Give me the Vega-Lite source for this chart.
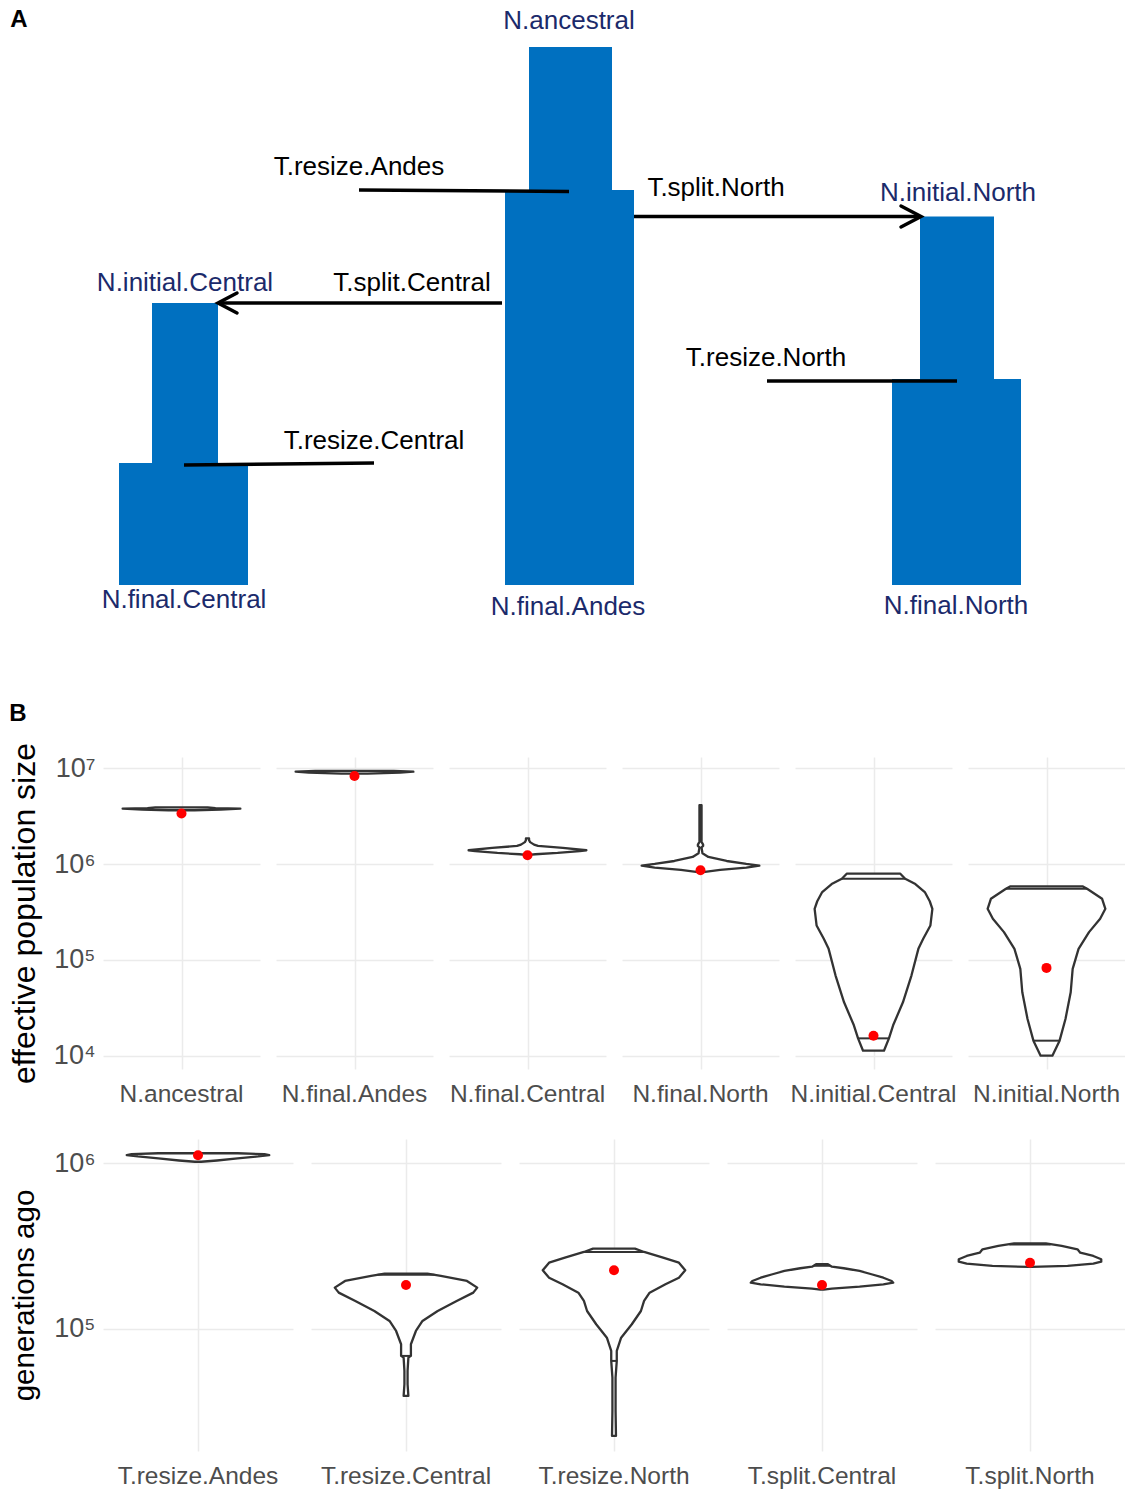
{
  "$schema": "https://vega.github.io/schema/vega-lite/v6.json",
  "padding": {"left": 8, "top": 0, "right": 0, "bottom": 0},
  "spacing": 12,
  "config": {"view": {"stroke": null}, "font": "Liberation Sans"},
  "datasets": {
    "boxes": [
      {"x": 530, "x2": 613, "y": 47, "y2": 190},
      {"x": 506, "x2": 635, "y": 190, "y2": 585},
      {"x": 921, "x2": 995, "y": 216.5, "y2": 380},
      {"x": 893, "x2": 1022, "y": 379, "y2": 585},
      {"x": 153, "x2": 219, "y": 303, "y2": 463},
      {"x": 120, "x2": 249, "y": 463, "y2": 585}
    ],
    "lines": [
      {"x": 360, "x2": 570, "y": 190, "y2": 191.5},
      {"x": 635, "x2": 921, "y": 216.5, "y2": 216.5},
      {"x": 503, "x2": 219, "y": 303, "y2": 303},
      {"x": 768, "x2": 958, "y": 381, "y2": 381},
      {"x": 185, "x2": 375, "y": 465, "y2": 463}
    ],
    "arrows": [
      {"a": "north", "i": 0, "x": 902, "y": 206},
      {"a": "north", "i": 1, "x": 922, "y": 216.5},
      {"a": "north", "i": 2, "x": 902, "y": 227},
      {"a": "central", "i": 0, "x": 238, "y": 293},
      {"a": "central", "i": 1, "x": 219, "y": 303},
      {"a": "central", "i": 2, "x": 238, "y": 313}
    ],
    "labels": [
      {"t": "N.ancestral", "x": 570, "y": 21, "c": "N"},
      {"t": "T.resize.Andes", "x": 360, "y": 167, "c": "T"},
      {"t": "T.split.North", "x": 717, "y": 188, "c": "T"},
      {"t": "N.initial.North", "x": 959, "y": 193, "c": "N"},
      {"t": "N.initial.Central", "x": 186, "y": 283, "c": "N"},
      {"t": "T.split.Central", "x": 413, "y": 283, "c": "T"},
      {"t": "T.resize.North", "x": 767, "y": 358, "c": "T"},
      {"t": "T.resize.Central", "x": 375, "y": 441, "c": "T"},
      {"t": "N.final.Central", "x": 185, "y": 600, "c": "N"},
      {"t": "N.final.Andes", "x": 569, "y": 607, "c": "N"},
      {"t": "N.final.North", "x": 957, "y": 606, "c": "N"}
    ],
    "letters": [
      {"t": "A", "x": 20, "y": 20},
      {"t": "B", "x": 19, "y": 714}
    ],
    "nv": [
      {"g": "N.ancestral", "k": "o", "v": 3930000, "l": -0.2, "r": 0.2},
      {"g": "N.ancestral", "k": "o", "v": 3860000, "l": -0.26, "r": 0.26},
      {"g": "N.ancestral", "k": "o", "v": 3800000, "l": -0.45, "r": 0.45},
      {"g": "N.ancestral", "k": "o", "v": 3720000, "l": -0.3, "r": 0.3},
      {"g": "N.ancestral", "k": "o", "v": 3660000, "l": -0.1, "r": 0.1},
      {"g": "N.ancestral", "k": "p", "v": 3380000, "l": 0},

      {"g": "N.final.Andes", "k": "o", "v": 9450000, "l": -0.3, "r": 0.3},
      {"g": "N.final.Andes", "k": "o", "v": 9250000, "l": -0.45, "r": 0.45},
      {"g": "N.final.Andes", "k": "o", "v": 9050000, "l": -0.35, "r": 0.35},
      {"g": "N.final.Andes", "k": "o", "v": 8850000, "l": -0.1, "r": 0.1},
      {"g": "N.final.Andes", "k": "p", "v": 8330000, "l": 0},

      {"g": "N.final.Central", "k": "o", "v": 1858000, "l": -0.012, "r": 0.012},
      {"g": "N.final.Central", "k": "o", "v": 1780000, "l": -0.012, "r": 0.012},
      {"g": "N.final.Central", "k": "o", "v": 1700000, "l": -0.02, "r": 0.02},
      {"g": "N.final.Central", "k": "o", "v": 1600000, "l": -0.05, "r": 0.05},
      {"g": "N.final.Central", "k": "o", "v": 1551000, "l": -0.08, "r": 0.08},
      {"g": "N.final.Central", "k": "o", "v": 1478000, "l": -0.27, "r": 0.27},
      {"g": "N.final.Central", "k": "o", "v": 1398000, "l": -0.45, "r": 0.45},
      {"g": "N.final.Central", "k": "o", "v": 1370000, "l": -0.4, "r": 0.4},
      {"g": "N.final.Central", "k": "o", "v": 1310000, "l": -0.23, "r": 0.23},
      {"g": "N.final.Central", "k": "o", "v": 1270000, "l": -0.06, "r": 0.06},
      {"g": "N.final.Central", "k": "o", "v": 1250000, "l": -0.01, "r": 0.01},
      {"g": "N.final.Central", "k": "p", "v": 1240000, "l": 0},

      {"g": "N.final.North", "k": "o", "v": 4139000, "l": -0.008, "r": 0.008},
      {"g": "N.final.North", "k": "o", "v": 2766000, "l": -0.008, "r": 0.008},
      {"g": "N.final.North", "k": "o", "v": 1708000, "l": -0.008, "r": 0.008},
      {"g": "N.final.North", "k": "o", "v": 1600000, "l": -0.02, "r": 0.02},
      {"g": "N.final.North", "k": "o", "v": 1551000, "l": -0.02, "r": 0.02},
      {"g": "N.final.North", "k": "o", "v": 1500000, "l": -0.008, "r": 0.008},
      {"g": "N.final.North", "k": "o", "v": 1300000, "l": -0.015, "r": 0.015},
      {"g": "N.final.North", "k": "o", "v": 1190000, "l": -0.06, "r": 0.06},
      {"g": "N.final.North", "k": "o", "v": 1080000, "l": -0.2, "r": 0.2},
      {"g": "N.final.North", "k": "o", "v": 1005000, "l": -0.35, "r": 0.35},
      {"g": "N.final.North", "k": "o", "v": 965000, "l": -0.45, "r": 0.45},
      {"g": "N.final.North", "k": "o", "v": 923000, "l": -0.35, "r": 0.35},
      {"g": "N.final.North", "k": "o", "v": 870000, "l": -0.15, "r": 0.15},
      {"g": "N.final.North", "k": "o", "v": 828000, "l": -0.02, "r": 0.02},
      {"g": "N.final.North", "k": "p", "v": 863000, "l": 0},

      {"g": "N.initial.Central", "k": "o", "v": 795300, "l": -0.205, "r": 0.205},
      {"g": "N.initial.Central", "k": "o", "v": 705000, "l": -0.242, "r": 0.242},
      {"g": "N.initial.Central", "k": "o", "v": 620000, "l": -0.32, "r": 0.32},
      {"g": "N.initial.Central", "k": "o", "v": 511700, "l": -0.392, "r": 0.392},
      {"g": "N.initial.Central", "k": "o", "v": 410000, "l": -0.43, "r": 0.43},
      {"g": "N.initial.Central", "k": "o", "v": 342000, "l": -0.45, "r": 0.45},
      {"g": "N.initial.Central", "k": "o", "v": 229200, "l": -0.435, "r": 0.435},
      {"g": "N.initial.Central", "k": "o", "v": 166000, "l": -0.38, "r": 0.38},
      {"g": "N.initial.Central", "k": "o", "v": 130400, "l": -0.343, "r": 0.343},
      {"g": "N.initial.Central", "k": "o", "v": 68650, "l": -0.29, "r": 0.29},
      {"g": "N.initial.Central", "k": "o", "v": 36070, "l": -0.225, "r": 0.225},
      {"g": "N.initial.Central", "k": "o", "v": 20720, "l": -0.15, "r": 0.15},
      {"g": "N.initial.Central", "k": "o", "v": 15140, "l": -0.118, "r": 0.118},
      {"g": "N.initial.Central", "k": "o", "v": 11250, "l": -0.08, "r": 0.08},
      {"g": "N.initial.Central", "k": "q", "v": 705000, "l": -0.242, "r": 0.242},
      {"g": "N.initial.Central", "k": "q", "v": 15140, "l": -0.118, "r": 0.118},
      {"g": "N.initial.Central", "k": "p", "v": 16150, "l": 0},

      {"g": "N.initial.North", "k": "o", "v": 586900, "l": -0.275, "r": 0.275},
      {"g": "N.initial.North", "k": "o", "v": 554000, "l": -0.31, "r": 0.31},
      {"g": "N.initial.North", "k": "o", "v": 435200, "l": -0.425, "r": 0.425},
      {"g": "N.initial.North", "k": "o", "v": 342000, "l": -0.45, "r": 0.45},
      {"g": "N.initial.North", "k": "o", "v": 268800, "l": -0.41, "r": 0.41},
      {"g": "N.initial.North", "k": "o", "v": 195100, "l": -0.325, "r": 0.325},
      {"g": "N.initial.North", "k": "o", "v": 130400, "l": -0.245, "r": 0.245},
      {"g": "N.initial.North", "k": "o", "v": 80500, "l": -0.2, "r": 0.2},
      {"g": "N.initial.North", "k": "o", "v": 45890, "l": -0.185, "r": 0.185},
      {"g": "N.initial.North", "k": "o", "v": 24110, "l": -0.145, "r": 0.145},
      {"g": "N.initial.North", "k": "o", "v": 14320, "l": -0.1, "r": 0.1},
      {"g": "N.initial.North", "k": "o", "v": 9980, "l": -0.045, "r": 0.045},
      {"g": "N.initial.North", "k": "q", "v": 554000, "l": -0.31, "r": 0.31},
      {"g": "N.initial.North", "k": "q", "v": 14320, "l": -0.1, "r": 0.1},
      {"g": "N.initial.North", "k": "p", "v": 82500, "l": 0}
    ],
    "tv": [
      {"g": "T.resize.Andes", "k": "o", "v": 1150000, "l": -0.25, "r": 0.25},
      {"g": "T.resize.Andes", "k": "o", "v": 1135000, "l": -0.42, "r": 0.42},
      {"g": "T.resize.Andes", "k": "o", "v": 1122000, "l": -0.45, "r": 0.45},
      {"g": "T.resize.Andes", "k": "o", "v": 1100000, "l": -0.38, "r": 0.38},
      {"g": "T.resize.Andes", "k": "o", "v": 1070000, "l": -0.25, "r": 0.25},
      {"g": "T.resize.Andes", "k": "o", "v": 1040000, "l": -0.12, "r": 0.12},
      {"g": "T.resize.Andes", "k": "o", "v": 1022000, "l": -0.02, "r": 0.02},
      {"g": "T.resize.Andes", "k": "p", "v": 1118000, "l": 0},

      {"g": "T.resize.Central", "k": "o", "v": 215000, "l": -0.135, "r": 0.135},
      {"g": "T.resize.Central", "k": "o", "v": 208200, "l": -0.22, "r": 0.22},
      {"g": "T.resize.Central", "k": "o", "v": 194300, "l": -0.385, "r": 0.385},
      {"g": "T.resize.Central", "k": "o", "v": 177000, "l": -0.45, "r": 0.45},
      {"g": "T.resize.Central", "k": "o", "v": 165100, "l": -0.425, "r": 0.425},
      {"g": "T.resize.Central", "k": "o", "v": 147100, "l": -0.32, "r": 0.32},
      {"g": "T.resize.Central", "k": "o", "v": 127900, "l": -0.2, "r": 0.2},
      {"g": "T.resize.Central", "k": "o", "v": 111300, "l": -0.104, "r": 0.104},
      {"g": "T.resize.Central", "k": "o", "v": 96800, "l": -0.0625, "r": 0.0625},
      {"g": "T.resize.Central", "k": "o", "v": 80500, "l": -0.031, "r": 0.031},
      {"g": "T.resize.Central", "k": "o", "v": 68400, "l": -0.031, "r": 0.031},
      {"g": "T.resize.Central", "k": "o", "v": 66800, "l": -0.015, "r": 0.015},
      {"g": "T.resize.Central", "k": "o", "v": 55500, "l": -0.01, "r": 0.01},
      {"g": "T.resize.Central", "k": "o", "v": 46100, "l": -0.01, "r": 0.01},
      {"g": "T.resize.Central", "k": "o", "v": 39200, "l": -0.015, "r": 0.015},
      {"g": "T.resize.Central", "k": "q", "v": 211500, "l": -0.18, "r": 0.18},
      {"g": "T.resize.Central", "k": "q", "v": 68400, "l": -0.031, "r": 0.031},
      {"g": "T.resize.Central", "k": "p", "v": 183800, "l": 0},

      {"g": "T.resize.North", "k": "o", "v": 304600, "l": -0.1325, "r": 0.1325},
      {"g": "T.resize.North", "k": "o", "v": 290900, "l": -0.19, "r": 0.19},
      {"g": "T.resize.North", "k": "o", "v": 268800, "l": -0.31, "r": 0.31},
      {"g": "T.resize.North", "k": "o", "v": 250600, "l": -0.41, "r": 0.41},
      {"g": "T.resize.North", "k": "o", "v": 225500, "l": -0.45, "r": 0.45},
      {"g": "T.resize.North", "k": "o", "v": 203300, "l": -0.41, "r": 0.41},
      {"g": "T.resize.North", "k": "o", "v": 185500, "l": -0.325, "r": 0.325},
      {"g": "T.resize.North", "k": "o", "v": 165100, "l": -0.225, "r": 0.225},
      {"g": "T.resize.North", "k": "o", "v": 147100, "l": -0.19, "r": 0.19},
      {"g": "T.resize.North", "k": "o", "v": 127900, "l": -0.17, "r": 0.17},
      {"g": "T.resize.North", "k": "o", "v": 106300, "l": -0.1125, "r": 0.1125},
      {"g": "T.resize.North", "k": "o", "v": 88200, "l": -0.045, "r": 0.045},
      {"g": "T.resize.North", "k": "o", "v": 73300, "l": -0.0175, "r": 0.0175},
      {"g": "T.resize.North", "k": "o", "v": 63800, "l": -0.0175, "r": 0.0175},
      {"g": "T.resize.North", "k": "o", "v": 50600, "l": -0.01, "r": 0.01},
      {"g": "T.resize.North", "k": "o", "v": 31800, "l": -0.01, "r": 0.01},
      {"g": "T.resize.North", "k": "o", "v": 22450, "l": -0.0125, "r": 0.0125},
      {"g": "T.resize.North", "k": "q", "v": 290900, "l": -0.19, "r": 0.19},
      {"g": "T.resize.North", "k": "q", "v": 63800, "l": -0.0175, "r": 0.0175},
      {"g": "T.resize.North", "k": "p", "v": 225500, "l": 0},

      {"g": "T.split.Central", "k": "o", "v": 245200, "l": -0.0375, "r": 0.0375},
      {"g": "T.split.Central", "k": "o", "v": 237100, "l": -0.0625, "r": 0.0625},
      {"g": "T.split.Central", "k": "o", "v": 231900, "l": -0.1375, "r": 0.1375},
      {"g": "T.split.Central", "k": "o", "v": 223300, "l": -0.2375, "r": 0.2375},
      {"g": "T.split.Central", "k": "o", "v": 213300, "l": -0.3125, "r": 0.3125},
      {"g": "T.split.Central", "k": "o", "v": 203300, "l": -0.3875, "r": 0.3875},
      {"g": "T.split.Central", "k": "o", "v": 194300, "l": -0.44, "r": 0.44},
      {"g": "T.split.Central", "k": "o", "v": 189700, "l": -0.45, "r": 0.45},
      {"g": "T.split.Central", "k": "o", "v": 185500, "l": -0.3875, "r": 0.3875},
      {"g": "T.split.Central", "k": "o", "v": 179500, "l": -0.2375, "r": 0.2375},
      {"g": "T.split.Central", "k": "o", "v": 174500, "l": -0.0625, "r": 0.0625},
      {"g": "T.split.Central", "k": "o", "v": 172100, "l": -0.01, "r": 0.01},
      {"g": "T.split.Central", "k": "q", "v": 240000, "l": -0.05, "r": 0.05},
      {"g": "T.split.Central", "k": "p", "v": 183800, "l": 0},

      {"g": "T.split.North", "k": "o", "v": 328300, "l": -0.1, "r": 0.1},
      {"g": "T.split.North", "k": "o", "v": 316200, "l": -0.2, "r": 0.2},
      {"g": "T.split.North", "k": "o", "v": 302000, "l": -0.3, "r": 0.3},
      {"g": "T.split.North", "k": "o", "v": 288100, "l": -0.3175, "r": 0.3175},
      {"g": "T.split.North", "k": "o", "v": 275100, "l": -0.4, "r": 0.4},
      {"g": "T.split.North", "k": "o", "v": 262800, "l": -0.45, "r": 0.45},
      {"g": "T.split.North", "k": "o", "v": 254200, "l": -0.45, "r": 0.45},
      {"g": "T.split.North", "k": "o", "v": 247200, "l": -0.4, "r": 0.4},
      {"g": "T.split.North", "k": "o", "v": 239400, "l": -0.2375, "r": 0.2375},
      {"g": "T.split.North", "k": "o", "v": 236100, "l": -0.01, "r": 0.01},
      {"g": "T.split.North", "k": "q", "v": 323000, "l": -0.13, "r": 0.13},
      {"g": "T.split.North", "k": "p", "v": 250600, "l": 0}
    ]
  },
  "vconcat": [
    {
      "width": 1022,
      "height": 730,
      "layer": [
        {
          "data": {"name": "boxes"},
          "mark": {"type": "rect", "color": "#0070C0"},
          "encoding": {
            "x": {"field": "x", "type": "quantitative", "scale": {"domain": [104, 1126]}, "axis": null},
            "x2": {"field": "x2"},
            "y": {"field": "y", "type": "quantitative", "scale": {"domain": [0, 730], "reverse": true}, "axis": null},
            "y2": {"field": "y2"}
          }
        },
        {
          "data": {"name": "lines"},
          "mark": {"type": "rule", "color": "#000000", "strokeWidth": 3.5},
          "encoding": {
            "x": {"field": "x", "type": "quantitative", "scale": {"domain": [104, 1126]}, "axis": null},
            "x2": {"field": "x2"},
            "y": {"field": "y", "type": "quantitative", "scale": {"domain": [0, 730], "reverse": true}, "axis": null},
            "y2": {"field": "y2"}
          }
        },
        {
          "data": {"name": "arrows"},
          "mark": {"type": "line", "color": "#000000", "strokeWidth": 3.5, "strokeCap": "round", "strokeJoin": "miter"},
          "encoding": {
            "x": {"field": "x", "type": "quantitative", "scale": {"domain": [104, 1126]}, "axis": null},
            "y": {"field": "y", "type": "quantitative", "scale": {"domain": [0, 730], "reverse": true}, "axis": null},
            "detail": {"field": "a", "type": "nominal"},
            "order": {"field": "i", "type": "quantitative"}
          }
        },
        {
          "data": {"name": "labels"},
          "mark": {"type": "text", "fontSize": 26, "align": "center", "baseline": "middle", "font": "Liberation Sans"},
          "encoding": {
            "x": {"field": "x", "type": "quantitative", "scale": {"domain": [104, 1126]}, "axis": null},
            "y": {"field": "y", "type": "quantitative", "scale": {"domain": [0, 730], "reverse": true}, "axis": null},
            "text": {"field": "t"},
            "color": {"field": "c", "type": "nominal", "scale": {"domain": ["N", "T"], "range": ["#1B2A6B", "#000000"]}, "legend": null}
          }
        },
        {
          "data": {"name": "letters"},
          "mark": {"type": "text", "fontSize": 24, "fontWeight": "bold", "align": "center", "baseline": "middle", "color": "#000000", "font": "Liberation Sans"},
          "encoding": {
            "x": {"field": "x", "type": "quantitative", "scale": {"domain": [104, 1126]}, "axis": null},
            "y": {"field": "y", "type": "quantitative", "scale": {"domain": [0, 730], "reverse": true}, "axis": null},
            "text": {"field": "t"}
          }
        }
      ]
    },
    {
      "spacing": 32,
      "vconcat": [
        {
          "data": {"name": "nv"},
          "spacing": 16,
          "facet": {
            "column": {
              "field": "g", "type": "nominal",
              "header": {"title": null, "labelOrient": "bottom", "labelFontSize": 24.5, "labelColor": "#4d4d4d", "labelFont": "Liberation Sans", "labelPadding": 14}
            }
          },
          "spec": {
            "width": 157,
            "height": 312,
            "layer": [
              {
                "transform": [{"filter": "datum.k == 'o'"}],
                "mark": {"type": "area", "orient": "horizontal", "fill": "#ffffff", "stroke": "#333333", "strokeWidth": 2.3, "strokeJoin": "round"},
                "encoding": {
                  "x": {"field": "l", "type": "quantitative", "scale": {"domain": [-0.6, 0.6]},
                    "axis": {"values": [0], "grid": true, "gridColor": "#EBEBEB", "gridWidth": 1.5, "labels": false, "ticks": false, "domain": false, "title": null}},
                  "x2": {"field": "r"},
                  "y": {"field": "v", "type": "quantitative", "scale": {"type": "log", "domain": [7244, 13182567]},
                    "axis": {"values": [10000, 100000, 1000000, 10000000], "grid": true, "gridColor": "#EBEBEB", "gridWidth": 1.5, "ticks": false, "domain": false,
                      "labelExpr": "datum.value < 50000 ? '10⁴' : datum.value < 500000 ? '10⁵' : datum.value < 5000000 ? '10⁶' : '10⁷'",
                      "labelFontSize": 27, "labelColor": "#4d4d4d", "labelFont": "Liberation Sans", "labelPadding": 8,
                      "title": "effective population size", "titleFontSize": 32, "titleFontWeight": "normal", "titleColor": "#000000", "titleFont": "Liberation Sans", "titlePadding": 12}}
                }
              },
              {
                "transform": [{"filter": "datum.k == 'q'"}],
                "mark": {"type": "rule", "color": "#333333", "strokeWidth": 2},
                "encoding": {
                  "x": {"field": "l", "type": "quantitative", "scale": {"domain": [-0.6, 0.6]}},
                  "x2": {"field": "r"},
                  "y": {"field": "v", "type": "quantitative", "scale": {"type": "log", "domain": [7244, 13182567]}}
                }
              },
              {
                "transform": [{"filter": "datum.k == 'p'"}],
                "mark": {"type": "point", "filled": true, "color": "#FF0000", "size": 100, "opacity": 1},
                "encoding": {
                  "x": {"field": "l", "type": "quantitative", "scale": {"domain": [-0.6, 0.6]}},
                  "y": {"field": "v", "type": "quantitative", "scale": {"type": "log", "domain": [7244, 13182567]}}
                }
              }
            ]
          }
        },
        {
          "data": {"name": "tv"},
          "spacing": 18,
          "facet": {
            "column": {
              "field": "g", "type": "nominal",
              "header": {"title": null, "labelOrient": "bottom", "labelFontSize": 24.5, "labelColor": "#4d4d4d", "labelFont": "Liberation Sans", "labelPadding": 14}
            }
          },
          "spec": {
            "width": 190,
            "height": 312,
            "layer": [
              {
                "transform": [{"filter": "datum.k == 'o'"}],
                "mark": {"type": "area", "orient": "horizontal", "fill": "#ffffff", "stroke": "#333333", "strokeWidth": 2.3, "strokeJoin": "round"},
                "encoding": {
                  "x": {"field": "l", "type": "quantitative", "scale": {"domain": [-0.6, 0.6]},
                    "axis": {"values": [0], "grid": true, "gridColor": "#EBEBEB", "gridWidth": 1.5, "labels": false, "ticks": false, "domain": false, "title": null}},
                  "x2": {"field": "r"},
                  "y": {"field": "v", "type": "quantitative", "scale": {"type": "log", "domain": [18197, 1402813]},
                    "axis": {"values": [100000, 1000000], "grid": true, "gridColor": "#EBEBEB", "gridWidth": 1.5, "ticks": false, "domain": false,
                      "labelExpr": "datum.value < 500000 ? '10⁵' : '10⁶'",
                      "labelFontSize": 27, "labelColor": "#4d4d4d", "labelFont": "Liberation Sans", "labelPadding": 8,
                      "title": "generations ago", "titleFontSize": 29.5, "titleFontWeight": "normal", "titleColor": "#000000", "titleFont": "Liberation Sans", "titlePadding": 14.5}}
                }
              },
              {
                "transform": [{"filter": "datum.k == 'q'"}],
                "mark": {"type": "rule", "color": "#333333", "strokeWidth": 2},
                "encoding": {
                  "x": {"field": "l", "type": "quantitative", "scale": {"domain": [-0.6, 0.6]}},
                  "x2": {"field": "r"},
                  "y": {"field": "v", "type": "quantitative", "scale": {"type": "log", "domain": [18197, 1402813]}}
                }
              },
              {
                "transform": [{"filter": "datum.k == 'p'"}],
                "mark": {"type": "point", "filled": true, "color": "#FF0000", "size": 100, "opacity": 1},
                "encoding": {
                  "x": {"field": "l", "type": "quantitative", "scale": {"domain": [-0.6, 0.6]}},
                  "y": {"field": "v", "type": "quantitative", "scale": {"type": "log", "domain": [18197, 1402813]}}
                }
              }
            ]
          }
        }
      ]
    }
  ]
}
